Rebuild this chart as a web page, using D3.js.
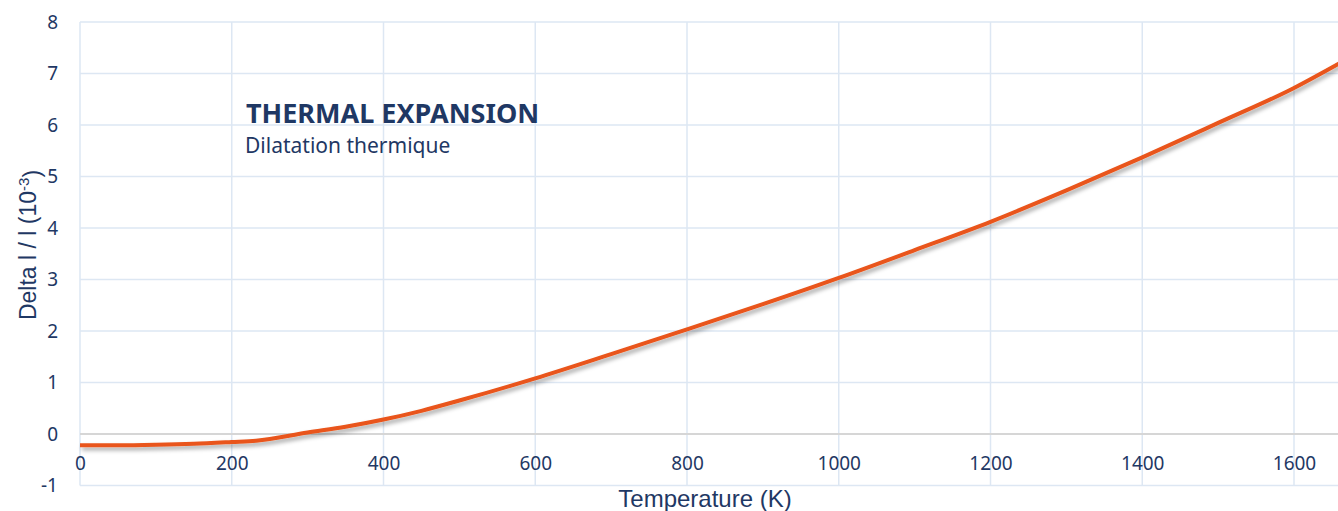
<!DOCTYPE html>
<html lang="en">
    <head>
        <meta charset="utf-8">
        <title>Thermal expansion</title>
        <script src="https://d3js.org/d3.v7.min.js"></script>
        <style type="text/css">
          body{
            margin:0;
            background:#fff;
          }
          svg{
            display:block;
          }
          .tick text{
            font-family: "Noto Sans", sans-serif;
            font-size: 19px;
            fill: #1f3864;
          }
          .axisTitle{
            font-family: "Liberation Sans", Arial, sans-serif;
            font-size: 24px;
            fill: #1f3864;
          }
          .title{
            font-family: "Noto Sans", sans-serif;
            font-weight: bold;
            font-size: 27px;
            fill: #1f3864;
          }
          .subtitle{
            font-family: "Noto Sans", sans-serif;
            font-size: 21px;
            fill: #1f3864;
          }
        </style>
    </head>
    <body>
        <svg width="1338" height="511"></svg>

        <script type="text/javascript">

        // temperature (K) and delta l / l (10^-3)
        const temps  = [0, 50, 100, 150, 200, 232, 300, 350, 400, 450, 500, 600, 700, 800, 900, 1000, 1100, 1200, 1300, 1400, 1500, 1600, 1660];
        const deltas = [-0.22, -0.22, -0.21, -0.19, -0.155, -0.13, 0.03, 0.14, 0.28, 0.45, 0.65, 1.08, 1.55, 2.03, 2.52, 3.03, 3.57, 4.12, 4.73, 5.37, 6.04, 6.72, 7.2];

        const xTicks = [0, 200, 400, 600, 800, 1000, 1200, 1400, 1600];
        const yTicks = [-1, 0, 1, 2, 3, 4, 5, 6, 7, 8];

        const data = temps.map((t, i) => ({t: t, v: deltas[i]}));

        const svg = d3.select("svg");

        // plot area runs off the right edge of the window, like the original
        const x = d3.scaleLinear().domain([0, 1700]).range([80, 80 + 1700 * 0.75875]);
        const y = d3.scaleLinear().domain([-1, 8]).range([485.5, 22]);

        // drop shadow under the line
        const defs = svg.append("defs");
        const f = defs.append("filter")
            .attr("id", "shadow")
            .attr("x", "-5%").attr("y", "-20%")
            .attr("width", "110%").attr("height", "140%");
        f.append("feDropShadow")
            .attr("dx", 2)
            .attr("dy", 3)
            .attr("stdDeviation", 2)
            .attr("flood-color", "#000")
            .attr("flood-opacity", 0.35);

        // grid
        const grid = svg.append("g");
        grid.selectAll(".vgrid")
            .data(xTicks)
            .enter()
            .append("line")
            .attr("x1", d => x(d)).attr("x2", d => x(d))
            .attr("y1", y(8)).attr("y2", y(-1))
            .attr("stroke", "#dde7f3")
            .attr("stroke-width", 1.5);
        grid.selectAll(".hgrid")
            .data(yTicks.filter(d => d !== 0))
            .enter()
            .append("line")
            .attr("x1", x(0)).attr("x2", 1338)
            .attr("y1", d => y(d)).attr("y2", d => y(d))
            .attr("stroke", "#dde7f3")
            .attr("stroke-width", 1.5);
        // zero line is grey
        grid.append("line")
            .attr("x1", x(0)).attr("x2", 1338)
            .attr("y1", y(0)).attr("y2", y(0))
            .attr("stroke", "#d6d6d6")
            .attr("stroke-width", 2);

        // x axis sits on y = 0
        const xAxis = svg.append("g")
            .attr("transform", "translate(0," + y(0) + ")")
            .call(d3.axisBottom(x).tickValues(xTicks).tickSize(0).tickPadding(22.5).tickFormat(d => String(d)));
        xAxis.select(".domain").remove();

        const yAxis = svg.append("g")
            .attr("transform", "translate(" + x(0) + ",0)")
            .call(d3.axisLeft(y).tickValues(yTicks).tickSize(0).tickPadding(22).tickFormat(d => String(d)));
        yAxis.select(".domain").remove();

        // the curve
        const line = d3.line()
            .x(d => x(d.t))
            .y(d => y(d.v))
            .curve(d3.curveMonotoneX);

        svg.append("path")
            .datum(data)
            .attr("d", line)
            .attr("fill", "none")
            .attr("stroke", "#e9541a")
            .attr("stroke-width", 4)
            .attr("stroke-linejoin", "round")
            .attr("filter", "url(#shadow)");

        // titles
        svg.append("text")
            .attr("class", "title")
            .attr("x", 246)
            .attr("y", 122.5)
            .text("THERMAL EXPANSION");

        svg.append("text")
            .attr("class", "subtitle")
            .attr("x", 245)
            .attr("y", 153)
            .text("Dilatation thermique");

        svg.append("text")
            .attr("class", "axisTitle")
            .attr("x", 705)
            .attr("y", 507)
            .attr("text-anchor", "middle")
            .text("Temperature (K)");

        const yt = svg.append("text")
            .attr("class", "axisTitle")
            .style("font-size", "23px")
            .attr("transform", "translate(36,245) rotate(-90)")
            .attr("text-anchor", "middle");
        yt.append("tspan").text("Delta l / l (10");
        yt.append("tspan").attr("dy", "-0.5em").style("font-size", "15px").text("-3");
        yt.append("tspan").attr("dy", "0.5em").text(")");

        </script>
    </body>
</html>
